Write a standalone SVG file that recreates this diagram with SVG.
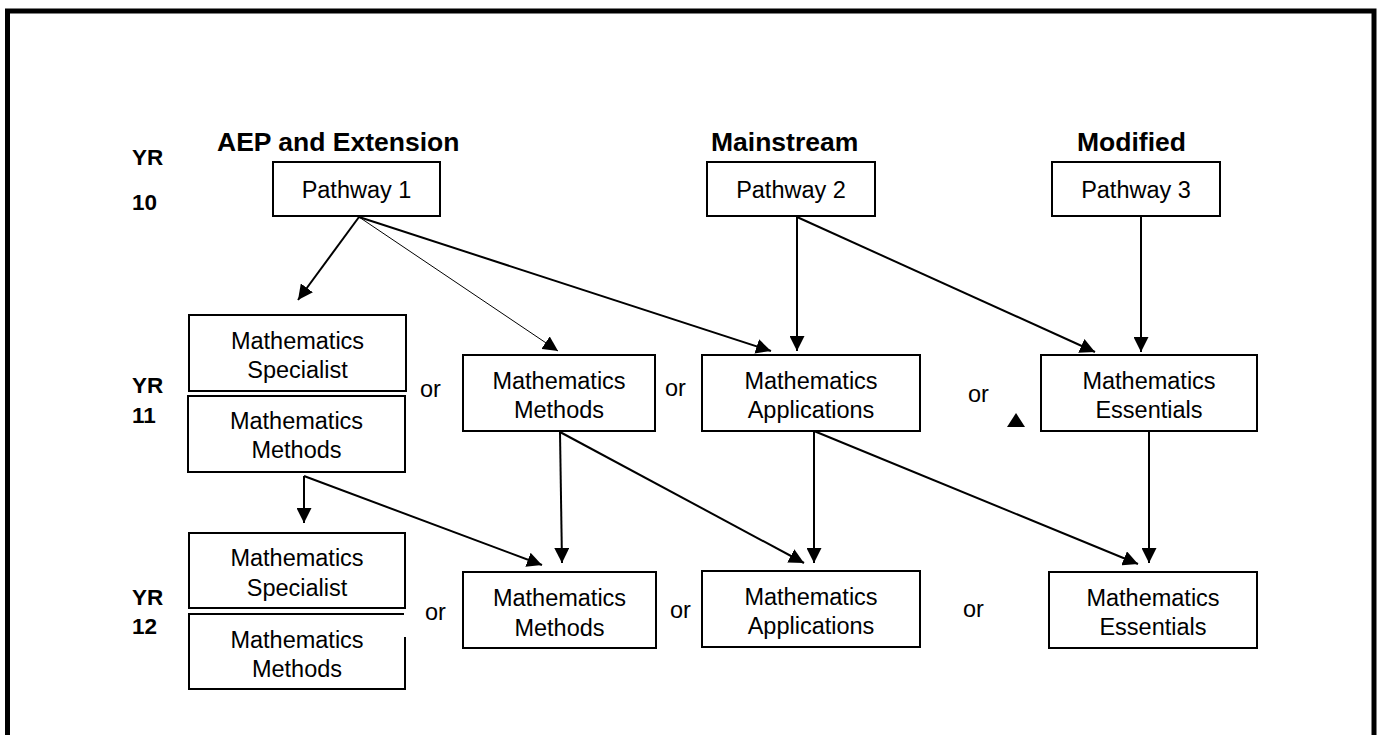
<svg xmlns="http://www.w3.org/2000/svg" width="1378" height="735" viewBox="0 0 1378 735">
<style>
.box{fill:#fff;stroke:#000;stroke-width:2}
.t{font-family:"Liberation Sans",Arial,sans-serif;font-size:23.5px;fill:#000;text-anchor:middle}
.or{font-family:"Liberation Sans",Arial,sans-serif;font-size:23.5px;fill:#000}
.h{font-family:"Liberation Sans",Arial,sans-serif;font-size:26.5px;font-weight:bold;fill:#000}
.yr{font-family:"Liberation Sans",Arial,sans-serif;font-size:22.5px;font-weight:bold;fill:#000}
.c{fill:none;stroke:#000;stroke-width:2;marker-end:url(#ah)}
.thin{stroke-width:1}
</style>
<defs>
<marker id="ah" markerUnits="userSpaceOnUse" markerWidth="15" markerHeight="15" refX="15" refY="7.5" orient="auto" viewBox="0 0 15 15">
<path d="M0,0 L15,7.5 L0,15 z" fill="#000"/>
</marker>
</defs>
<rect width="1378" height="735" fill="#fff"/>
<rect x="7.5" y="11" width="1366.5" height="740" fill="none" stroke="#000" stroke-width="5"/>

<g id="labels">
<text class="h" x="217" y="151">AEP and Extension</text>
<text class="h" x="711" y="151">Mainstream</text>
<text class="h" x="1077" y="151">Modified</text>
<text class="yr" x="132" y="165">YR</text>
<text class="yr" x="132" y="210">10</text>
<text class="yr" x="132" y="393">YR</text>
<text class="yr" x="132" y="423">11</text>
<text class="yr" x="132" y="605">YR</text>
<text class="yr" x="132" y="634">12</text>
<text class="or" x="420" y="397">or</text>
<text class="or" x="665" y="396">or</text>
<text class="or" x="968" y="402">or</text>
<text class="or" x="425" y="620">or</text>
<text class="or" x="670" y="618">or</text>
<text class="or" x="963" y="617">or</text>
<polygon points="1016,413 1025,427 1007,427" fill="#000"/>
</g>

<g id="connectors">
<line class="c" x1="359" y1="217" x2="298" y2="300"/>
<line class="c thin" x1="359" y1="217" x2="558" y2="351"/>
<line class="c" x1="359" y1="217" x2="771" y2="351"/>
<line class="c" x1="797" y1="217" x2="797" y2="351"/>
<line class="c" x1="797" y1="217" x2="1095" y2="352"/>
<line class="c" x1="1141" y1="217" x2="1141" y2="352"/>
<line class="c" x1="560" y1="432" x2="562" y2="563"/>
<line class="c" x1="560" y1="432" x2="804" y2="563"/>
<line class="c" x1="814" y1="431" x2="814" y2="563"/>
<line class="c" x1="814" y1="431" x2="1138" y2="564"/>
<line class="c" x1="1149" y1="431" x2="1149" y2="563"/>
<line class="c" x1="304" y1="476" x2="304" y2="523"/>
<line class="c" x1="304" y1="476" x2="542" y2="565"/>
</g>

<g id="pathway1"><rect class="box" x="273" y="162" width="167" height="54"/><text class="t" x="356.5" y="198">Pathway 1</text></g>
<g id="pathway2"><rect class="box" x="707" y="162" width="168" height="54"/><text class="t" x="791" y="198">Pathway 2</text></g>
<g id="pathway3"><rect class="box" x="1052" y="162" width="168" height="54"/><text class="t" x="1136" y="198">Pathway 3</text></g>

<g id="y11-specialist"><rect class="box" x="189" y="315" width="217" height="76"/><text class="t" x="297.5" y="349">Mathematics</text><text class="t" x="297.5" y="378">Specialist</text></g>
<g id="y11-methods-a"><rect class="box" x="188" y="396" width="217" height="76"/><text class="t" x="296.5" y="429">Mathematics</text><text class="t" x="296.5" y="458">Methods</text></g>
<g id="y11-methods-b"><rect class="box" x="463" y="355" width="192" height="76"/><text class="t" x="559" y="389">Mathematics</text><text class="t" x="559" y="418">Methods</text></g>
<g id="y11-applications"><rect class="box" x="702" y="355" width="218" height="76"/><text class="t" x="811" y="389">Mathematics</text><text class="t" x="811" y="418">Applications</text></g>
<g id="y11-essentials"><rect class="box" x="1041" y="355" width="216" height="76"/><text class="t" x="1149" y="389">Mathematics</text><text class="t" x="1149" y="418">Essentials</text></g>

<g id="y12-specialist"><rect class="box" x="189" y="533" width="216" height="75"/><text class="t" x="297" y="566">Mathematics</text><text class="t" x="297" y="596">Specialist</text></g>
<g id="y12-methods-a"><path class="box" d="M404,614 H189 V689 H405 V637"/><text class="t" x="297" y="648">Mathematics</text><text class="t" x="297" y="677">Methods</text></g>
<g id="y12-methods-b"><rect class="box" x="463" y="572" width="193" height="76"/><text class="t" x="559.5" y="606">Mathematics</text><text class="t" x="559.5" y="636">Methods</text></g>
<g id="y12-applications"><rect class="box" x="702" y="571" width="218" height="76"/><text class="t" x="811" y="605">Mathematics</text><text class="t" x="811" y="634">Applications</text></g>
<g id="y12-essentials"><rect class="box" x="1049" y="572" width="208" height="76"/><text class="t" x="1153" y="606">Mathematics</text><text class="t" x="1153" y="635">Essentials</text></g>
</svg>
